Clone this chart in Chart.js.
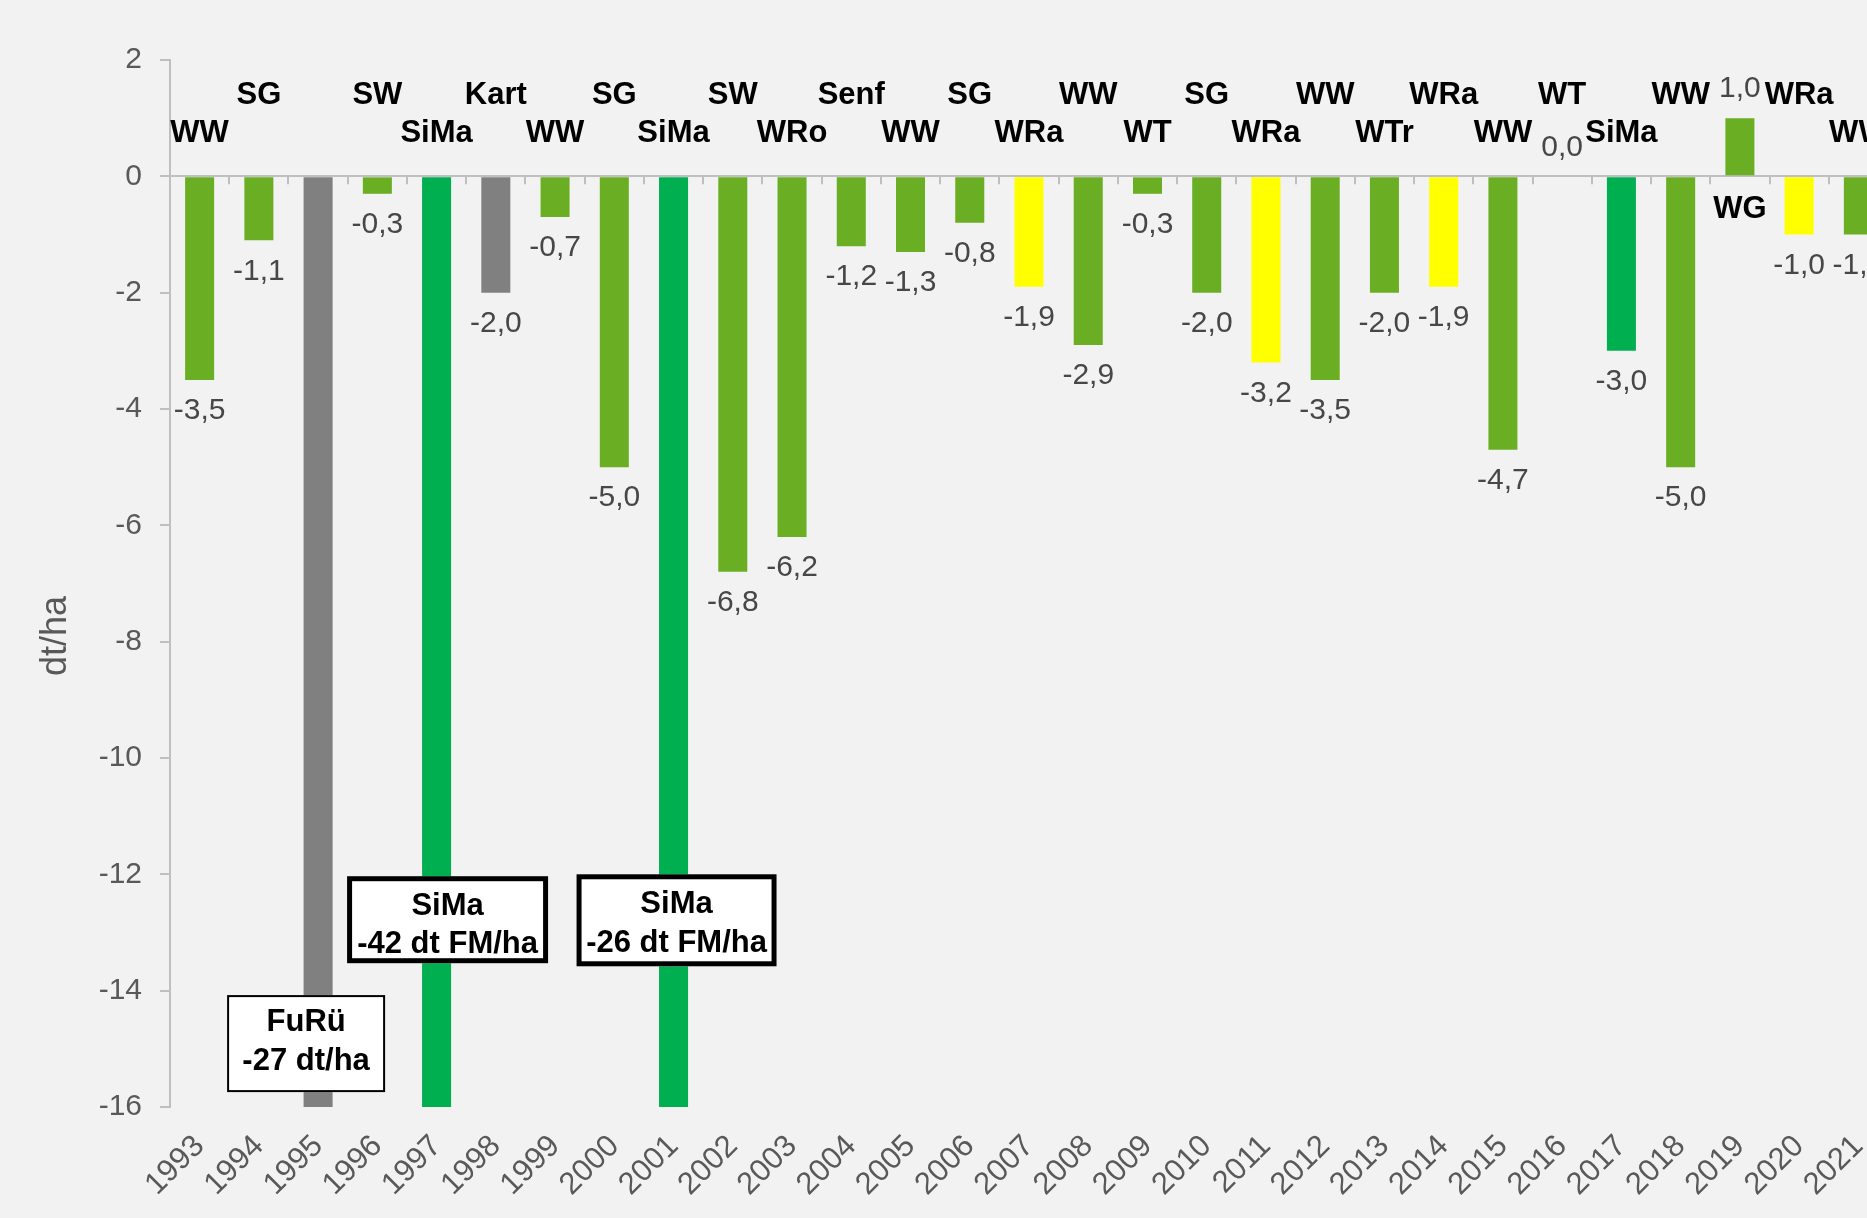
<!DOCTYPE html>
<html>
<head>
<meta charset="utf-8">
<script src="https://cdn.jsdelivr.net/npm/chart.js@4.4.0/dist/chart.umd.min.js"></script>
<style>
	html, body { margin: 0; padding: 0; background: #f2f2f2; overflow: hidden; }
	#wrap { width: 1888px; height: 1218px; }
</style>
</head>
<body>
<div id="wrap"><canvas id="yield-chart" width="1888" height="1218"></canvas></div>
<script>
// Ertragsdifferenz je Jahr (dt/ha), Kultur je Jahr
const years = ['1993', '1994', '1995', '1996', '1997', '1998', '1999', '2000', '2001', '2002',
	'2003', '2004', '2005', '2006', '2007', '2008', '2009', '2010', '2011', '2012',
	'2013', '2014', '2015', '2016', '2017', '2018', '2019', '2020', '2021'];
const crops = ['WW', 'SG', 'FuRü', 'SW', 'SiMa', 'Kart', 'WW', 'SG', 'SiMa', 'SW',
	'WRo', 'Senf', 'WW', 'SG', 'WRa', 'WW', 'WT', 'SG', 'WRa', 'WW',
	'WTr', 'WRa', 'WW', 'WT', 'SiMa', 'WW', 'WG', 'WRa', 'WW'];
const yieldDiff = [-3.5, -1.1, -27, -0.3, -42, -2.0, -0.7, -5.0, -26, -6.8,
	-6.2, -1.2, -1.3, -0.8, -1.9, -2.9, -0.3, -2.0, -3.2, -3.5,
	-2.0, -1.9, -4.7, 0.0, -3.0, -5.0, 1.0, -1.0, -1.0];
const yTicks = [2, 0, -2, -4, -6, -8, -10, -12, -14, -16];

// bars that run off the axis get a note box instead of a value label
const noteYears = ['1995', '1997', '2001'];
const noteLines = [['FuRü', '-27 dt/ha'], ['SiMa', '-42 dt FM/ha'], ['SiMa', '-26 dt FM/ha']];
const hiddenCropYears = ['1995'];

const cropColors = { SiMa: '#00b050', WRa: '#ffff00', FuRü: '#808080', Kart: '#808080' };
const barColors = crops.map(c => cropColors[c] || '#6aaf23');

const FONT = '"Liberation Sans", Arial, sans-serif';

// box layout: x offset from bar centre (px), centre value, size, border, line offsets
const noteBoxes = [
	{ dx: -12, cy: -14.91, w: 158, h: 97, lw: 2, l1: -21, l2: 18 },
	{ dx: 11, cy: -12.78, w: 201, h: 87, lw: 5, l1: -13, l2: 25 },
	{ dx: 3, cy: -12.79, w: 200, h: 92, lw: 5, l1: -16, l2: 23 }
];

const overlay = {
	id: 'overlay',
	afterDatasetsDraw(chart) {
		const { ctx, scales: { x, y } } = chart;
		const zero = y.getPixelForValue(0);
		ctx.save();

		// small category ticks on the zero line
		ctx.strokeStyle = '#bfbfbf';
		ctx.lineWidth = 2;
		for (let i = 1; i < years.length; i++) {
			const px = Math.round((x.getPixelForValue(i - 1) + x.getPixelForValue(i)) / 2);
			ctx.beginPath();
			ctx.moveTo(px, zero);
			ctx.lineTo(px, zero + 8);
			ctx.stroke();
		}

		ctx.textAlign = 'center';
		ctx.textBaseline = 'middle';

		// value labels
		ctx.font = '30px ' + FONT;
		ctx.fillStyle = '#474747';
		yieldDiff.forEach((v, i) => {
			if (v < y.min) return;
			const px = x.getPixelForValue(i);
			const py = y.getPixelForValue(v);
			ctx.fillText(v.toFixed(1).replace('.', ','), px, v < 0 ? py + 31 : py - 29);
		});

		// crop labels, alternating rows above the axis
		ctx.font = 'bold 31px ' + FONT;
		ctx.fillStyle = '#000';
		crops.forEach((c, i) => {
			if (hiddenCropYears.includes(years[i])) return;
			const px = x.getPixelForValue(i);
			let py;
			if (yieldDiff[i] > 0) py = zero + 33;
			else py = zero - (i % 2 ? 81 : 43);
			ctx.fillText(c, px, py);
		});

		// note boxes for bars beyond the axis
		noteYears.forEach((yr, n) => {
			const b = noteBoxes[n];
			const cx = x.getPixelForValue(years.indexOf(yr)) + b.dx;
			const cy = y.getPixelForValue(b.cy);
			const left = cx - b.w / 2, top = cy - b.h / 2;
			ctx.fillStyle = '#fff';
			ctx.fillRect(left, top, b.w, b.h);
			ctx.strokeStyle = '#000';
			ctx.lineWidth = b.lw;
			ctx.strokeRect(left + b.lw / 2, top + b.lw / 2, b.w - b.lw, b.h - b.lw);
			ctx.fillStyle = '#000';
			ctx.font = 'bold 31px ' + FONT;
			ctx.fillText(noteLines[n][0], cx, cy + b.l1);
			ctx.fillText(noteLines[n][1], cx, cy + b.l2);
		});

		// y axis title
		ctx.font = '36px ' + FONT;
		ctx.fillStyle = '#595959';
		ctx.translate(56, 636);
		ctx.rotate(-Math.PI / 2);
		ctx.fillText('dt/ha', 0, 0);

		ctx.restore();
	}
};

const ctx = document.getElementById('yield-chart').getContext('2d');
new Chart(ctx, {
	type: 'bar',
	data: {
		labels: years,
		datasets: [{
			label: 'dt/ha',
			data: yieldDiff,
			backgroundColor: barColors,
			borderWidth: 0,
			barPercentage: 0.49,
			categoryPercentage: 1
		}]
	},
	options: {
		responsive: false,
		animation: false,
		layout: { padding: { top: 60, right: 0, bottom: 0, left: 0 } },
		plugins: {
			legend: { display: false },
			tooltip: { enabled: false },
			title: { display: false }
		},
		scales: {
			x: {
				border: { display: false },
				grid: { display: false, drawTicks: false },
				ticks: {
					color: '#595959',
					font: { family: FONT, size: 31 },
					minRotation: 45,
					maxRotation: 45,
					padding: 21,
					autoSkip: false
				},
				afterFit(scale) {
					scale.height = 111;
					scale.paddingLeft = 0;
					scale.paddingRight = 0;
				}
			},
			y: {
				min: -16,
				max: 2,
				border: { color: '#bfbfbf', width: 2 },
				grid: {
					color: c => (c.tick && c.tick.value === 0 ? '#bfbfbf' : 'transparent'),
					lineWidth: 2,
					tickColor: '#bfbfbf',
					tickLength: 10
				},
				afterBuildTicks(scale) {
					scale.ticks = yTicks.map(v => ({ value: v }));
				},
				ticks: {
					color: '#595959',
					font: { family: FONT, size: 30 },
					padding: 18,
					callback: v => String(v)
				},
				afterFit(scale) {
					scale.width = 170;
				}
			}
		}
	},
	plugins: [overlay]
});
</script>
</body>
</html>
